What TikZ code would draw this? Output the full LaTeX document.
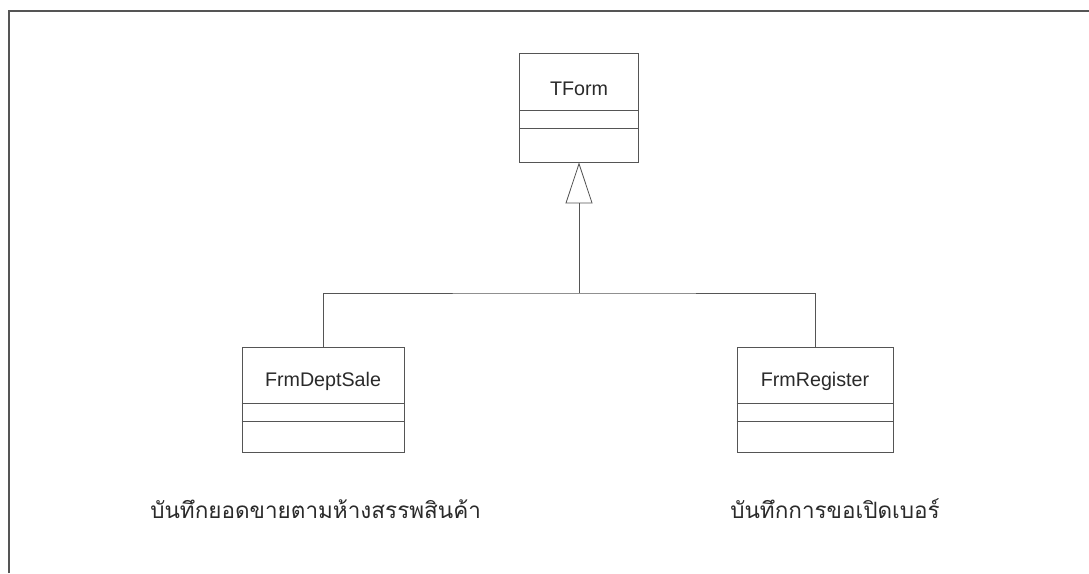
\documentclass[tikz,border=0pt]{standalone}
\usepackage{fontspec}
\setmainfont{Liberation Sans}
\newfontfamily\thaifont[Script=Thai]{Loma}
\usetikzlibrary{arrows.meta}
\definecolor{umlline}{HTML}{555555}
\definecolor{umltext}{HTML}{2A2A2A}
\tikzset{
  classbox/.style={draw=umlline, line width=0.6pt, minimum height=#1, inner sep=0pt},
  classname/.style={anchor=base, text=umltext, font=\fontsize{14}{16}\selectfont},
  inherit/.style={draw=umlline, line width=0.6pt, -{Triangle[open, length=1.025cm, width=0.675cm]}},
  link/.style={draw=umlline, line width=0.6pt},
  note/.style={anchor=base west, inner sep=0pt, text=umltext, font=\thaifont\fontsize{16}{19}\selectfont}
}
\begin{document}
\begin{tikzpicture}[x=0.025cm, y=-0.025cm]
            \useasboundingbox (0,0) rectangle (1089,573);
            \draw[umlline, line width=1.2pt] (9,573) -- (9,11) -- (1089,11);
            % classes
            \node[classbox=2.725cm, minimum width=2.975cm] (tform) at (579,107.5) {};
            \node[classname] (tformname) at (579,95) {TForm};
            \draw[link] ([yshift=-1.45cm]tform.north west) -- ([yshift=-1.45cm]tform.north east);
            \draw[link] ([yshift=-1.9cm]tform.north west) -- ([yshift=-1.9cm]tform.north east);
            \node[classbox=2.625cm, minimum width=4.05cm] (deptsale) at (323,399.5) {};
            \node[classname] (deptsalename) at (323,386) {FrmDeptSale};
            \draw[link] ([yshift=-1.425cm]deptsale.north west) -- ([yshift=-1.425cm]deptsale.north east);
            \draw[link] ([yshift=-1.875cm]deptsale.north west) -- ([yshift=-1.875cm]deptsale.north east);
            \node[classbox=2.625cm, minimum width=3.9cm] (register) at (815,399.5) {};
            \node[classname] (registername) at (815,386) {FrmRegister};
            \draw[link] ([yshift=-1.425cm]register.north west) -- ([yshift=-1.425cm]register.north east);
            \draw[link] ([yshift=-1.875cm]register.north west) -- ([yshift=-1.875cm]register.north east);
            % generalisation
            \coordinate (fork) at (579,293);
            \draw[inherit] (fork) -- (tform.south);
            \draw[link] (deptsale.north) |- (fork) -| (register.north);
            % notes
            \node[note] (deptsalenote) at (150,518) {บันทึกยอดขายตามห้างสรรพสินค้า};
            \node[note] (registernote) at (730,518) {บันทึกการขอเปิดเบอร์};
        \end{tikzpicture}
\end{document}
